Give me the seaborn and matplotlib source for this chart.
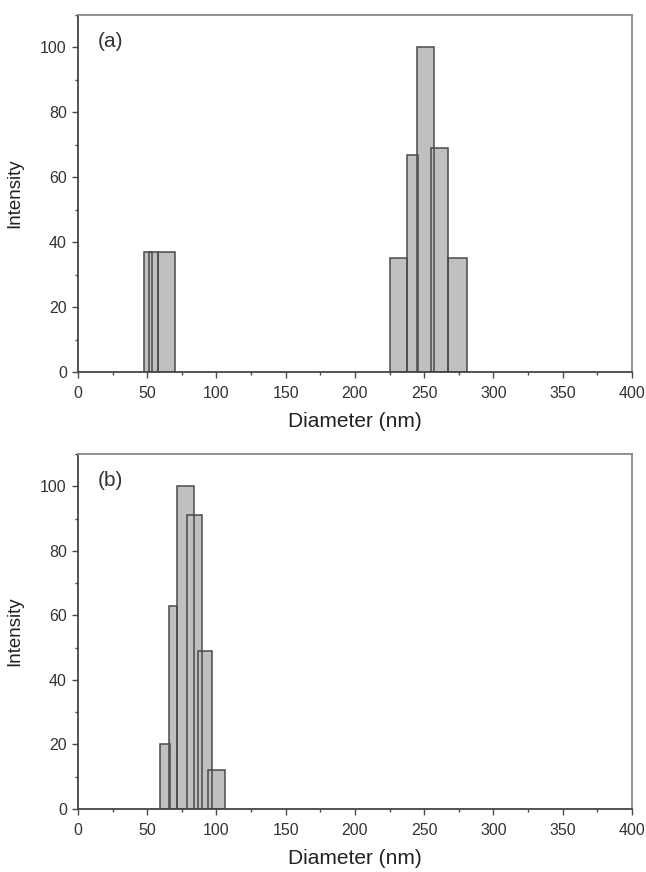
import numpy as np
import pandas as pd
import matplotlib
matplotlib.use("Agg")
import matplotlib.pyplot as plt
from matplotlib.ticker import MultipleLocator
import seaborn as sns

# ---- data ----
a_left = [47.7, 51.5, 58.0, 225.5, 237.3, 244.7, 254.7, 267.4]
a_right = [53.4, 58.0, 70.0, 237.3, 245.2, 256.7, 267.4, 280.6]
a_intensity = [37, 37, 37, 35, 67, 100, 69, 35]

b_left = [59.4, 65.4, 71.4, 78.9, 86.5, 94.2]
b_right = [66.1, 71.4, 83.6, 89.4, 97.1, 106.5]
b_intensity = [20, 63, 100, 91, 49, 12]

x_ticks = [0, 50, 100, 150, 200, 250, 300, 350, 400]
y_ticks = [0, 20, 40, 60, 80, 100]
panel_labels = ["(a)", "(b)"]

sns.set_theme(style="ticks")
plt.rcParams["font.family"] = ["Liberation Sans", "DejaVu Sans"]

FACE = "#c0c0c0"
EDGE = "#4a4a4a"
TXT = "#333333"

fig = plt.figure(figsize=(6.46, 8.72), dpi=100)
ax_a = fig.add_axes([0.1207, 0.5734, 0.8576, 0.4094])
ax_b = fig.add_axes([0.1207, 0.0722, 0.8576, 0.4071])


def draw_panel(ax, lefts, rights, vals, label):
    df = pd.DataFrame({"left": lefts, "right": rights, "val": vals})
    df["center"] = (df["left"] + df["right"]) / 2
    # fills
    for _, r in df.iterrows():
        sns.histplot(x=[r["center"]], weights=[r["val"]], bins=[r["left"], r["right"]],
                     ax=ax, color=FACE, edgecolor="none", alpha=1.0, linewidth=0)
    # outlines (all visible, as in the reference)
    for _, r in df.iterrows():
        sns.histplot(x=[r["center"]], weights=[r["val"]], bins=[r["left"], r["right"]],
                     ax=ax, fill=False, color=EDGE, linewidth=1.1)
    ax.set_xlim(0, 400)
    ax.set_ylim(0, 110)
    ax.set_xticks(x_ticks)
    ax.set_yticks(y_ticks)
    ax.xaxis.set_minor_locator(MultipleLocator(25))
    ax.yaxis.set_minor_locator(MultipleLocator(10))
    ax.tick_params(axis="both", which="major", direction="out", length=4, width=1,
                   color=EDGE, labelsize=11.5, labelcolor=TXT)
    ax.tick_params(axis="x", which="major", pad=6)
    ax.tick_params(axis="y", which="major", pad=4)
    ax.tick_params(axis="both", which="minor", direction="out", length=2.5, width=1,
                   color=EDGE)
    ax.set_xlabel("Diameter (nm)", fontsize=15, color="#222222", labelpad=8)
    ax.set_ylabel("Intensity", fontsize=13.5, color="#222222")
    ax.yaxis.set_label_coords(-0.0993, 0.5)
    for s in ["left", "bottom"]:
        ax.spines[s].set_color("#444444")
        ax.spines[s].set_linewidth(1.3)
    for s in ["top", "right"]:
        ax.spines[s].set_visible(True)
        ax.spines[s].set_color("#8a8a8a")
        ax.spines[s].set_linewidth(1.3)
    ax.text(0.036, 0.925, label, transform=ax.transAxes, fontsize=15,
            color="#333333", ha="left", va="center")


draw_panel(ax_a, a_left, a_right, a_intensity, panel_labels[0])
draw_panel(ax_b, b_left, b_right, b_intensity, panel_labels[1])

fig.savefig("out.png", dpi=100)
